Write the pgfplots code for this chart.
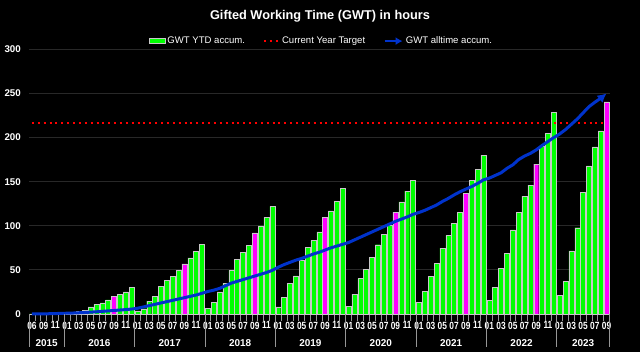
\documentclass[border=0pt]{standalone}
\usepackage{fontspec}
\setmainfont{Liberation Sans}
\usepackage{graphicx}
\usepackage{pgfplots}
\pgfplotsset{compat=1.18}
\usetikzlibrary{arrows.meta}
\definecolor{bargreen}{RGB}{0,255,0}
\definecolor{barmag}{RGB}{255,0,255}
\definecolor{lineblue}{RGB}{0,51,204}
\definecolor{gridc}{RGB}{40,40,40}
\definecolor{axc}{RGB}{150,150,150}
\definecolor{edgec}{RGB}{200,200,200}
\newcommand\ml[1]{\scalebox{0.8}[1]{#1}}
\begin{document}
\begin{tikzpicture}
\useasboundingbox[fill=black] (0,0) rectangle (640bp,352bp);
\node[text=white, font=\bfseries\fontsize{12.8}{12.8}\selectfont] at (320bp,336bp) {Gifted Working Time (GWT) in hours};
\begin{axis}[
  at={(29bp,38bp)}, anchor=south west,
  scale only axis, width=580.5bp, height=264.7bp,
  xmin=-0.5, xmax=98.5, ymin=0, ymax=300,
  clip=false,
  axis x line*=bottom, axis y line*=left,
  y axis line style={draw=none},
  x axis line style={axc, line width=0.8bp, -},
  ymajorgrids, grid style={gridc, line width=0.8bp},
  ytick={0,50,...,300}, yticklabels={0,50,100,150,200,250,300},
  yticklabel style={text=white, font=\bfseries\fontsize{9.8}{9.8}\selectfont, anchor=east, inner sep=0pt, xshift=-8bp},
  major tick length=0pt,
  xtick={0,2,...,98},
  xticklabels={\ml{06},\ml{09},\ml{11},
    \ml{01},\ml{03},\ml{05},\ml{07},\ml{09},\ml{11},
    \ml{01},\ml{03},\ml{05},\ml{07},\ml{09},\ml{11},
    \ml{01},\ml{03},\ml{05},\ml{07},\ml{09},\ml{11},
    \ml{01},\ml{03},\ml{05},\ml{07},\ml{09},\ml{11},
    \ml{01},\ml{03},\ml{05},\ml{07},\ml{09},\ml{11},
    \ml{01},\ml{03},\ml{05},\ml{07},\ml{09},\ml{11},
    \ml{01},\ml{03},\ml{05},\ml{07},\ml{09},\ml{11},
    \ml{01},\ml{03},\ml{05},\ml{07},\ml{09}},
  xticklabel style={text=white, font=\bfseries\fontsize{10.5}{10.5}\selectfont, anchor=north, inner sep=0pt, yshift=-7.5bp},
  minor xtick={-0.5,0.5,...,98.5},
  tick align=outside,
  minor tick length=7bp,
  minor tick style={axc, line width=0.6bp},
  legend style={at={(0.504,1.031)}, anchor=center, draw=none, fill=none, text=white,
    font=\fontsize{9.6}{9.6}\selectfont, legend columns=3,
    /tikz/every even column/.append style={column sep=16bp}},
  legend cell align=left,
]
\addplot[ybar, bar width=5bp, bar shift=0pt, fill=bargreen, draw=edgec, line width=0.4bp,
  legend image code/.code={\draw[fill=bargreen, draw=edgec, line width=0.4bp] (0bp,-2.5bp) rectangle (16bp,2.5bp);}]
coordinates {
(0,0.2)(1,0.3)(2,0.4)(3,0.5)(4,0.6)(5,0.8)
(6,0.8)(7,1.5)(8,3)(9,4)(10,8)(11,11)(12,12.5)(13,16)(15,22)(16,25)(17,30)
(18,3.5)(19,6)(20,14.7)(21,20)(22,31.4)(23,38)(24,43)(25,49.5)(27,63.5)(28,71)(29,79)
(30,6.6)(31,13.4)(32,25)(33,34.7)(34,49.5)(35,62)(36,70)(37,78)(39,100)(40,109.5)(41,122)
(42,8.2)(43,19)(44,35)(45,43.2)(46,61.3)(47,75.8)(48,83.2)(49,93)(51,117)(52,128)(53,142.5)
(54,8.8)(55,22.5)(56,40.2)(57,50.3)(58,64.5)(59,78.5)(60,90.5)(61,101)(63,127)(64,139.3)(65,151.8)
(66,13.3)(67,25.5)(68,42.5)(69,57.7)(70,74.7)(71,89.2)(72,103)(73,115)(75,151.6)(76,164)(77,180)
(78,15.2)(79,30.6)(80,52)(81,69)(82,95.3)(83,115.6)(84,133.5)(85,146)(87,190.5)(88,205)(89,228.7)
(90,21.5)(91,37.2)(92,71.6)(93,97.8)(94,137.8)(95,168)(96,189.4)(97,207.6)
};
\addlegendentry{GWT YTD accum.}
\addplot[ybar, bar width=5bp, bar shift=0pt, fill=barmag, draw=edgec, line width=0.4bp, forget plot]
coordinates {(14,20)(26,56.7)(38,92)(50,109.2)(62,115.5)(74,137)(86,170)(98,240.5)};
\addplot[red, line width=2bp, dash pattern=on 2bp off 3.87bp, no marks,
  legend image code/.code={\draw[red, line width=2bp, dash pattern=on 2bp off 3.9bp] (0bp,0bp) -- (15bp,0bp);}]
coordinates {(0,216)(98,216)};
\addlegendentry{Current Year Target}
\addplot[lineblue, line width=3bp, line join=round, no marks, -{Latex[length=9bp,width=9.5bp]},
  legend image code/.code={\draw[lineblue, line width=2.8bp, -{Latex[length=7bp,width=8bp]}] (0bp,0bp) -- (18bp,0bp);}]
coordinates {
(0,0)(1,0.1)(2,0.2)(3,0.3)(4,0.5)(5,0.7)
(6,0.9)(7,1.1)(8,1.4)(9,1.7)(10,2.1)(11,2.5)(12,3.0)(13,3.5)(14,4.0)(15,4.5)(16,5.0)(17,5.6)
(18,6.5)(19,8)(20,9.5)(21,11)(22,12.5)(23,14)(24,15.5)(25,17)(26,18.5)(27,20)(28,21.5)(29,23.5)
(30,25.5)(31,27)(32,29)(33,32)(34,35)(35,37)(36,39)(37,41)(38,43)(39,45)(40,47)(41,49.5)
(42,53)(43,56)(44,58.5)(45,61)(46,63)(47,65.5)(48,68)(49,70)(50,72.5)(51,75)(52,77)(53,79)
(54,81)(55,84)(56,87)(57,90)(58,93)(59,96)(60,99)(61,102)(62,105)(63,107.5)(64,110)(65,113)
(66,115)(67,117.5)(68,120.5)(69,123.5)(70,127.5)(71,131)(72,135)(73,138.5)(74,141.5)(75,144.5)(76,148)(77,152)
(78,154)(79,157)(80,160)(81,165)(82,169)(83,175)(84,179)(85,182)(86,186)(87,191)(88,195.5)(89,200)
(90,204)(91,209)(92,215)(93,221)(94,228)(95,235)(96,240)(97,244.5)(98,250)
};
\addlegendentry{GWT alltime accum.}
% year separators
\tikzset{ys/.style={axc, line width=0.6bp}}
\draw[ys] (axis cs:-0.5,0) -- ([yshift=-33bp]axis cs:-0.5,0);
\draw[ys] (axis cs:5.5,0) -- ([yshift=-33bp]axis cs:5.5,0);
\draw[ys] (axis cs:17.5,0) -- ([yshift=-33bp]axis cs:17.5,0);
\draw[ys] (axis cs:29.5,0) -- ([yshift=-33bp]axis cs:29.5,0);
\draw[ys] (axis cs:41.5,0) -- ([yshift=-33bp]axis cs:41.5,0);
\draw[ys] (axis cs:53.5,0) -- ([yshift=-33bp]axis cs:53.5,0);
\draw[ys] (axis cs:65.5,0) -- ([yshift=-33bp]axis cs:65.5,0);
\draw[ys] (axis cs:77.5,0) -- ([yshift=-33bp]axis cs:77.5,0);
\draw[ys] (axis cs:89.5,0) -- ([yshift=-33bp]axis cs:89.5,0);
\draw[ys] (axis cs:98.5,0) -- ([yshift=-33bp]axis cs:98.5,0);
% year labels
\tikzset{yl/.style={text=white, font=\bfseries\fontsize{10}{10}\selectfont, yshift=-29bp, inner sep=0pt}}
\node[yl] at (axis cs:2.5,0) {2015};
\node[yl] at (axis cs:11.5,0) {2016};
\node[yl] at (axis cs:23.5,0) {2017};
\node[yl] at (axis cs:35.5,0) {2018};
\node[yl] at (axis cs:47.5,0) {2019};
\node[yl] at (axis cs:59.5,0) {2020};
\node[yl] at (axis cs:71.5,0) {2021};
\node[yl] at (axis cs:83.5,0) {2022};
\node[yl] at (axis cs:94,0) {2023};
\end{axis}
\end{tikzpicture}
\end{document}
